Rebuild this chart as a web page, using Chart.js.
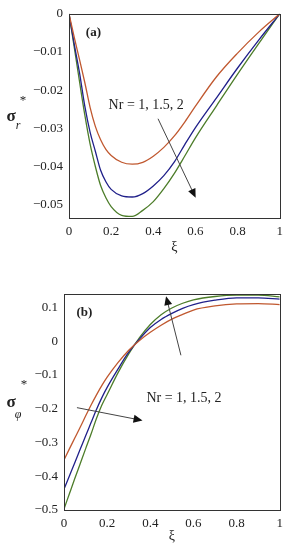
<!DOCTYPE html>
<html>
<head>
<meta charset="utf-8">
<script src="https://cdn.jsdelivr.net/npm/chart.js@4.4.0/dist/chart.umd.min.js"></script>
<style>
  body { margin: 0; background: #fff; }
  .panel { position: absolute; left: 0; width: 289px; }
  #panelA { top: 0; height: 260px; }
  #panelB { top: 280px; height: 270px; }
</style>
</head>
<body>
<div class="panel" id="panelA"><canvas id="chartA"></canvas></div>
<div class="panel" id="panelB"><canvas id="chartB"></canvas></div>
<script>
// shared xi grid
const xi = [0, 0.025, 0.05, 0.075, 0.1, 0.125, 0.15, 0.175, 0.2, 0.25, 0.3, 0.35, 0.4, 0.45, 0.5, 0.55, 0.6, 0.7, 0.8, 0.9, 1];

// (a) sigma_r*
const sigmaR_nr1 = [0, -0.0062, -0.0120, -0.0180, -0.0245, -0.0295, -0.0330, -0.0355, -0.0371, -0.0389, -0.0394, -0.0389, -0.0373, -0.0350, -0.0320, -0.0283, -0.0242, -0.0165, -0.0103, -0.0048, 0];
const sigmaR_nr15 = [0, -0.0080, -0.0155, -0.0242, -0.0310, -0.0360, -0.0410, -0.0440, -0.0460, -0.0477, -0.0480, -0.0471, -0.0451, -0.0424, -0.0388, -0.0342, -0.0298, -0.0220, -0.0142, -0.0069, 0];
const sigmaR_nr2 = [0, -0.0088, -0.0178, -0.0265, -0.0341, -0.0400, -0.0450, -0.0482, -0.0505, -0.0528, -0.0531, -0.0515, -0.0492, -0.0458, -0.0418, -0.0372, -0.0325, -0.0241, -0.0158, -0.0078, 0];

// (b) sigma_phi*
const sigmaPhi_nr1 = [-0.352, -0.319, -0.287, -0.255, -0.222, -0.190, -0.160, -0.132, -0.107, -0.064, -0.027, 0.002, 0.026, 0.047, 0.065, 0.079, 0.092, 0.104, 0.110, 0.111, 0.108];
const sigmaPhi_nr15 = [-0.438, -0.399, -0.360, -0.320, -0.281, -0.242, -0.203, -0.168, -0.137, -0.083, -0.033, 0.006, 0.040, 0.064, 0.082, 0.097, 0.108, 0.121, 0.128, 0.128, 0.124];
const sigmaPhi_nr2 = [-0.497, -0.452, -0.407, -0.363, -0.319, -0.276, -0.230, -0.190, -0.158, -0.094, -0.038, 0.010, 0.049, 0.078, 0.098, 0.112, 0.122, 0.132, 0.136, 0.136, 0.131];

const xTicks = [0, 0.2, 0.4, 0.6, 0.8, 1];
const yTicksA = [0, -0.01, -0.02, -0.03, -0.04, -0.05];
const yTicksB = [0.1, 0, -0.1, -0.2, -0.3, -0.4, -0.5];

const colors = ['#c0582f', '#20208a', '#4d7d2a'];
const serif = '"Liberation Serif", "Times New Roman", serif';

function minusFmt(v) {
    const s = String(+Math.abs(v).toFixed(3));
    return v < 0 ? '\u2212' + s : s;
}

function toPts(ys) {
    return xi.map((x, i) => ({ x: x, y: ys[i] }));
}

function arrow(ctx, x1, y1, x2, y2) {
    const ang = Math.atan2(y2 - y1, x2 - x1);
    const len = 9, half = 4;
    ctx.beginPath();
    ctx.moveTo(x1, y1);
    ctx.lineTo(x2 - Math.cos(ang) * len * 0.6, y2 - Math.sin(ang) * len * 0.6);
    ctx.stroke();
    ctx.beginPath();
    ctx.moveTo(x2, y2);
    ctx.lineTo(x2 - Math.cos(ang) * len - Math.sin(ang) * half, y2 - Math.sin(ang) * len + Math.cos(ang) * half);
    ctx.lineTo(x2 - Math.cos(ang) * len + Math.sin(ang) * half, y2 - Math.sin(ang) * len - Math.cos(ang) * half);
    ctx.closePath();
    ctx.fill();
}

// frame, panel tag, y title and Nr annotation
const decorPlugin = {
    id: 'decor',
    afterDraw(chart, args, opts) {
        const { ctx, chartArea: a, scales: { x, y } } = chart;
        ctx.save();
        ctx.strokeStyle = '#333';
        ctx.fillStyle = '#222';
        ctx.lineWidth = 1;
        ctx.strokeRect(Math.round(a.left) + 0.5, Math.round(a.top) + 0.5, Math.round(a.right - a.left), Math.round(a.bottom - a.top));

        // panel tag
        ctx.font = 'bold 13px ' + serif;
        ctx.textAlign = 'left';
        ctx.textBaseline = 'middle';
        ctx.fillText(opts.tag, x.getPixelForValue(opts.tagAt[0]), y.getPixelForValue(opts.tagAt[1]));

        // y title: sigma with sub / super
        const mid = (a.top + a.bottom) / 2;
        ctx.textAlign = 'center';
        ctx.font = 'bold 17px ' + serif;
        ctx.fillText('\u03c3', 11, mid + 1);
        ctx.font = '13px ' + serif;
        ctx.fillText('*', opts.starX, mid + opts.starDy);
        ctx.font = 'italic 12px ' + serif;
        ctx.fillText(opts.sub, 18, mid + opts.subDy);

        // annotation text and arrows
        ctx.font = '14px ' + serif;
        ctx.textAlign = 'left';
        ctx.fillText('Nr = 1, 1.5, 2', x.getPixelForValue(opts.textAt[0]), y.getPixelForValue(opts.textAt[1]));
        ctx.strokeStyle = '#444';
        ctx.fillStyle = '#111';
        opts.arrows.forEach(ar => {
            arrow(ctx, x.getPixelForValue(ar[0]), y.getPixelForValue(ar[1]), x.getPixelForValue(ar[2]), y.getPixelForValue(ar[3]));
        });
        ctx.restore();
    }
};

function makeChart(id, series, yMin, yMax, yTicks, yWidth, pad, decor) {
    const ctx = document.getElementById(id).getContext('2d');
    return new Chart(ctx, {
        type: 'line',
        data: {
            datasets: series.map((s, i) => ({
                label: 'Nr = ' + [1, 1.5, 2][i],
                data: toPts(s),
                borderColor: colors[i],
                borderWidth: 1.3,
                pointRadius: 0,
                cubicInterpolationMode: 'monotone',
                fill: false
            }))
        },
        options: {
            responsive: true,
            maintainAspectRatio: false,
            animation: false,
            layout: { padding: pad },
            plugins: {
                legend: { display: false },
                tooltip: { enabled: false },
                decor: decor
            },
            scales: {
                x: {
                    type: 'linear',
                    min: 0,
                    max: 1,
                    grid: { display: false, drawTicks: false },
                    border: { display: false },
                    afterBuildTicks: axis => { axis.ticks = xTicks.map(v => ({ value: v })); },
                    afterFit: axis => { axis.height = decor.xHeight; },
                    ticks: {
                        padding: 6,
                        color: '#222',
                        maxRotation: 0,
                        font: { family: serif, size: 13 },
                        callback: v => String(v)
                    },
                    title: {
                        display: true,
                        text: '\u03be',
                        color: '#222',
                        font: { family: serif, size: 14 },
                        padding: { top: 0, bottom: decor.titlePad }
                    }
                },
                y: {
                    min: yMin,
                    max: yMax,
                    grid: { display: false, drawTicks: false },
                    border: { display: false },
                    afterBuildTicks: axis => { axis.ticks = yTicks.map(v => ({ value: v })); },
                    afterFit: axis => { axis.width = yWidth; },
                    ticks: {
                        padding: 6,
                        color: '#222',
                        font: { family: serif, size: 13 },
                        callback: v => minusFmt(v)
                    }
                }
            }
        },
        plugins: [decorPlugin]
    });
}

makeChart('chartA', [sigmaR_nr1, sigmaR_nr15, sigmaR_nr2], -0.0535, 0, yTicksA, 69,
    { left: 0, right: 7, top: 9, bottom: 0 },
    {
        tag: '(a)', tagAt: [0.08, -0.005],
        sub: 'r', subDy: 10, starX: 23, starDy: -15,
        textAt: [0.188, -0.0241],
        arrows: [[0.4225, -0.0275, 0.601, -0.0482]],
        xHeight: 42, titlePad: 4
    });

makeChart('chartB', [sigmaPhi_nr1, sigmaPhi_nr15, sigmaPhi_nr2], -0.5, 0.14, yTicksB, 64,
    { left: 0, right: 7, top: 13, bottom: 0 },
    {
        tag: '(b)', tagAt: [0.058, 0.083],
        sub: '\u03c6', subDy: 13, starX: 24, starDy: -17,
        textAt: [0.382, -0.169],
        arrows: [[0.542, -0.042, 0.473, 0.133], [0.06, -0.197, 0.364, -0.235]],
        xHeight: 40, titlePad: 5
    });
</script>
</body>
</html>
